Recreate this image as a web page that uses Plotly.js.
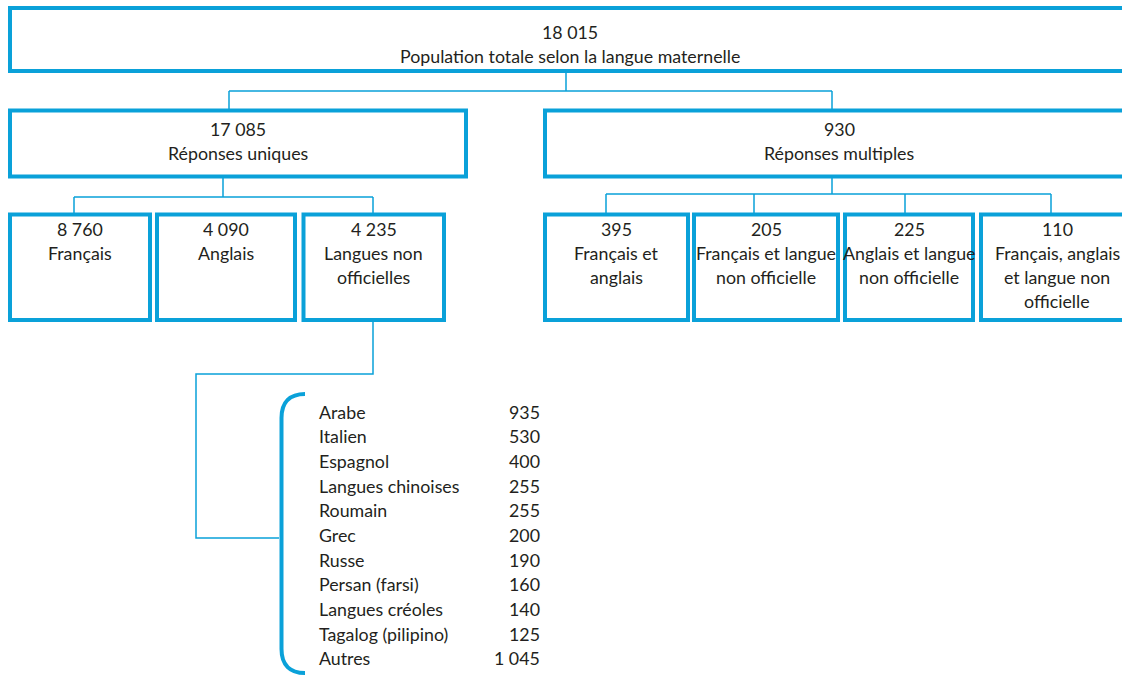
<!DOCTYPE html>
<html>
<head>
<meta charset="utf-8">
<script src="https://cdn.plot.ly/plotly-3.0.1.min.js"></script>
<style>html,body{margin:0;padding:0;background:#fff;}#chart{width:1122px;height:675px;}</style>
</head>
<body>
<div id="chart"></div>
<script>
// ---- Data ----
const totalLabel = ["Population totale selon la langue maternelle"];
const totalValue = ["18 015"];
const level1Labels = ["Réponses uniques", "Réponses multiples"];
const level1Values = ["17 085", "930"];
const uniqueLabels = ["Français", "Anglais", "Langues non<br>officielles"];
const uniqueValues = ["8 760", "4 090", "4 235"];
const multipleLabels = ["Français et<br>anglais", "Français et langue<br>non officielle", "Anglais et langue<br>non officielle", "Français, anglais<br>et langue non<br>officielle"];
const multipleValues = ["395", "205", "225", "110"];
const langNames = ["Arabe", "Italien", "Espagnol", "Langues chinoises", "Roumain", "Grec", "Russe", "Persan (farsi)", "Langues créoles", "Tagalog (pilipino)", "Autres"];
const langValues = [935, 530, 400, 255, 255, 200, 190, 160, 140, 125, 1045];

// ---- Layout geometry (diagram positions) ----
const BLUE = "#0aa1d9";
const TXT = "#231f20";
const FONT = "Lato, 'Open Sans', sans-serif";
const FS = 17.8;
const LH = 24.3;

const shapes = [];
const annotations = [];

function box(x0, x1, y0, y1) {
  shapes.push({type: "rect", xref: "x", yref: "y", x0: x0, x1: x1, y0: y0, y1: y1,
    line: {color: BLUE, width: 4}, fillcolor: "rgba(0,0,0,0)"});
}
function path(d, w) {
  shapes.push({type: "path", xref: "x", yref: "y", path: d, line: {color: BLUE, width: w || 1.5}});
}
function text(str, x, y, anchor) {
  annotations.push({text: str, x: x, y: y, xref: "x", yref: "y", showarrow: false,
    xanchor: anchor || "center", yanchor: "middle",
    font: {family: FONT, size: FS, color: TXT}});
}
function boxText(value, label, cx, yFirst) {
  const lines = [value].concat(label.split("<br>"));
  lines.forEach((l, i) => text(l, cx, yFirst + i * LH));
}
function fmt(n) {
  const s = String(n);
  return s.length > 3 ? s.slice(0, s.length - 3) + " " + s.slice(s.length - 3) : s;
}

// Level 0
box(10, 1133, 8, 71);
boxText(totalValue[0], totalLabel[0], 570, 31.5);

// Level 1
const l1 = [[10, 466], [545, 1133]];
l1.forEach((b, i) => {
  box(b[0], b[1], 110.5, 176.5);
  boxText(level1Values[i], level1Labels[i], (b[0] + b[1]) / 2, 129);
});
path("M566,71 L566,91 M229,91 L832,91 M229,91 L229,110.5 M832,91 L832,110.5");

// Level 2 - unique
const uB = [[10, 150], [157, 295], [303.5, 444]];
uB.forEach((b, i) => {
  box(b[0], b[1], 214.5, 320);
  boxText(uniqueValues[i], uniqueLabels[i], (b[0] + b[1]) / 2, 228.5);
});
path("M223,176.5 L223,197 M74,197 L373,197 M74,197 L74,214.5 M373,197 L373,214.5");

// Level 2 - multiple
const mB = [[545, 688], [694, 838], [845, 973], [981, 1133]];
mB.forEach((b, i) => {
  box(b[0], b[1], 214.5, 320);
  boxText(multipleValues[i], multipleLabels[i], (b[0] + b[1]) / 2, 228.5);
});
path("M832,176.5 L832,194 M606,194 L1051,194 M606,194 L606,214.5 M754,194 L754,214.5 M905,194 L905,214.5 M1051,194 L1051,214.5");

// Connector to list and bracket
path("M373,320 L373,374 L196,374 L196,538 L279,538");
path("M305,394 C 290,394 281.5,402 281.5,418 L281.5,649 C 281.5,665 290,673 305,673", 4);

// List
langNames.forEach((n, i) => {
  text(n, 317, 411.7 + i * 24.65, "left");
  text(fmt(langValues[i]), 542, 411.7 + i * 24.65, "right");
});

const layout = {
  width: 1122, height: 675,
  margin: {l: 0, r: 0, t: 0, b: 0},
  paper_bgcolor: "#ffffff", plot_bgcolor: "#ffffff",
  xaxis: {range: [0, 1122], visible: false, fixedrange: true},
  yaxis: {range: [675, 0], visible: false, fixedrange: true},
  showlegend: false,
  shapes: shapes,
  annotations: annotations
};
Plotly.newPlot("chart", [{x: [], y: [], type: "scatter", mode: "markers"}], layout, {staticPlot: true, displayModeBar: false});
</script>
</body>
</html>
